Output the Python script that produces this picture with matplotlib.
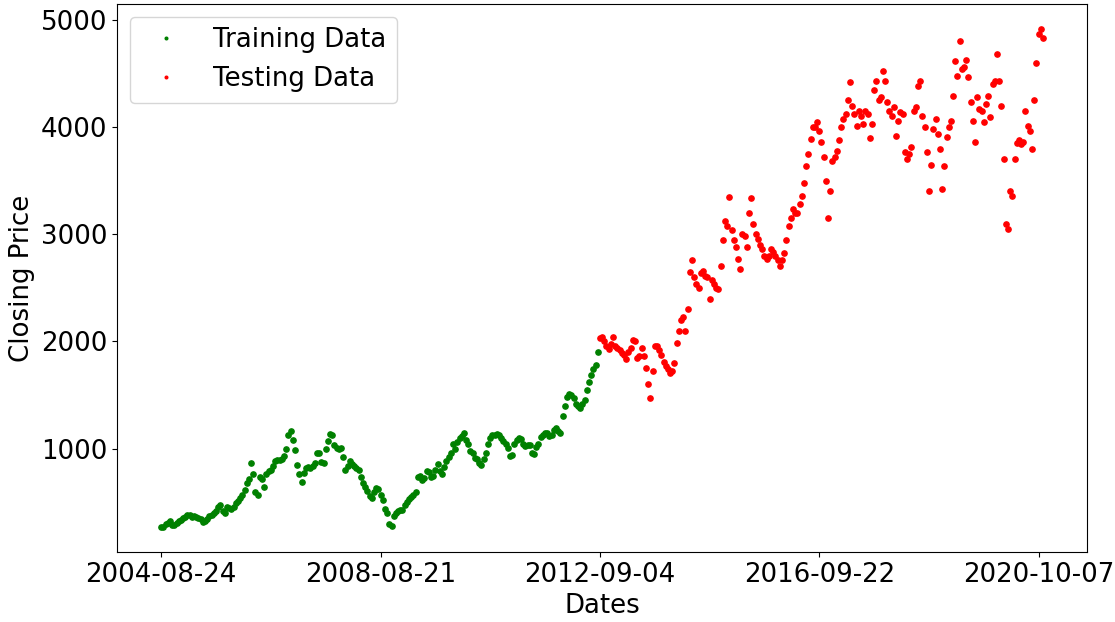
import numpy as np
import matplotlib
matplotlib.use('Agg')
import matplotlib.pyplot as plt

# closing prices, one value every 10 trading days
step = 10
train_close = [268, 270, 300, 310, 321, 285, 290, 305, 321, 335,
               350, 362, 383, 380, 361, 368, 364, 355, 343, 320,
               321, 345, 370, 385, 400, 420, 460, 470, 420, 400,
               455, 450, 435, 460, 492, 510, 539, 570, 610, 680,
               720, 870, 760, 600, 570, 740, 720, 640, 760, 790,
               804, 840, 881, 890, 897, 900, 935, 1000, 1130, 1160,
               1080, 990, 850, 760, 690, 770, 819, 830, 820, 835,
               866, 960, 960, 880, 870, 1000, 1068, 1140, 1131, 1030,
               1006, 1000, 1006, 920, 800, 835, 881, 860, 835, 820,
               804, 740, 679, 640, 601, 560, 539, 600, 630, 620,
               570, 520, 440, 400, 300, 280, 370, 400, 414, 425,
               430, 470, 500, 530, 545, 570, 600, 740, 741, 710,
               726, 790, 780, 740, 741, 800, 860, 790, 760, 830,
               881, 920, 960, 1040, 1000, 1060, 1100, 1120, 1150, 1080,
               1040, 980, 960, 913, 900, 870, 845, 900, 960, 1040,
               1100, 1131, 1131, 1140, 1130, 1100, 1070, 1040, 1006, 928,
               940, 1040, 1080, 1100, 1090, 1040, 1022, 1037, 1037, 960,
               950, 1020, 1040, 1110, 1130, 1150, 1147, 1115, 1130, 1178,
               1190, 1162, 1150, 1300, 1396, 1480, 1510, 1505, 1470, 1420,
               1396, 1383, 1420, 1458, 1550, 1620, 1690, 1740, 1780, 1900]
test_close = [2034, 2040, 2003, 1960, 1925, 1980, 2040, 1960, 1941, 1920,
              1894, 1870, 1832, 1900, 1941, 2010, 2003, 1850, 1863, 1940,
              1860, 1750, 1600, 1470, 1720, 1956, 1960, 1920, 1870, 1810,
              1769, 1740, 1707, 1720, 1801, 1990, 2100, 2200, 2230, 2100,
              2300, 2650, 2760, 2600, 2540, 2500, 2642, 2660, 2610, 2600,
              2400, 2570, 2533, 2500, 2486, 2700, 2950, 3120, 3078, 3350,
              3040, 2950, 2880, 2766, 2680, 3000, 2984, 2880, 3200, 3340,
              3100, 3000, 2953, 2900, 2860, 2800, 2766, 2800, 2860, 2830,
              2797, 2760, 2704, 2760, 2829, 2950, 3078, 3150, 3234, 3200,
              3203, 3280, 3358, 3480, 3638, 3750, 3888, 4000, 3997, 4050,
              3966, 3860, 3717, 3500, 3150, 3400, 3685, 3720, 3779, 3880,
              3997, 4075, 4121, 4250, 4420, 4200, 4121, 4012, 4153, 4100,
              4028, 4150, 4121, 3900, 4028, 4350, 4433, 4250, 4277, 4520,
              4433, 4231, 4153, 4106, 4184, 3920, 4059, 4138, 4121, 3763,
              3700, 3748, 3810, 4150, 4184, 4386, 4433, 4106, 3997, 3763,
              3400, 3650, 3981, 4075, 3935, 3794, 3420, 3638, 3904, 4000,
              4059, 4293, 4620, 4480, 4800, 4542, 4558, 4630, 4464, 4231,
              4059, 3857, 4277, 4168, 4153, 4044, 4215, 4293, 4090, 4400,
              4433, 4682, 4433, 4199, 3700, 3100, 3050, 3400, 3358, 3700,
              3850, 3880, 3841, 3857, 4153, 4012, 3966, 3800, 4250, 4600,
              4870, 4916, 4830]
tick_pos = [0, 1000, 2000, 3000, 4000]
tick_dates = ['2004-08-24', '2008-08-21', '2012-09-04', '2016-09-22', '2020-10-07']

train_x = np.arange(len(train_close)) * step
test_x = (np.arange(len(test_close)) + len(train_close)) * step

plt.rcParams['font.size'] = 18.7
fig = plt.figure(figsize=(11.15, 6.22), dpi=100)
plt.subplots_adjust(left=0.105, right=0.975, top=0.9936, bottom=0.1125)

plt.plot(train_x, train_close, 'o', color='green', markersize=3.8, label='Training Data')
plt.plot(test_x, test_close, 'o', color='red', markersize=3.8, label='Testing Data')
plt.xticks(tick_pos, tick_dates)
plt.xlabel('Dates')
plt.ylabel('Closing Price')
plt.legend(loc='upper left', markerscale=0.5)
plt.savefig('out.png', dpi=100)
